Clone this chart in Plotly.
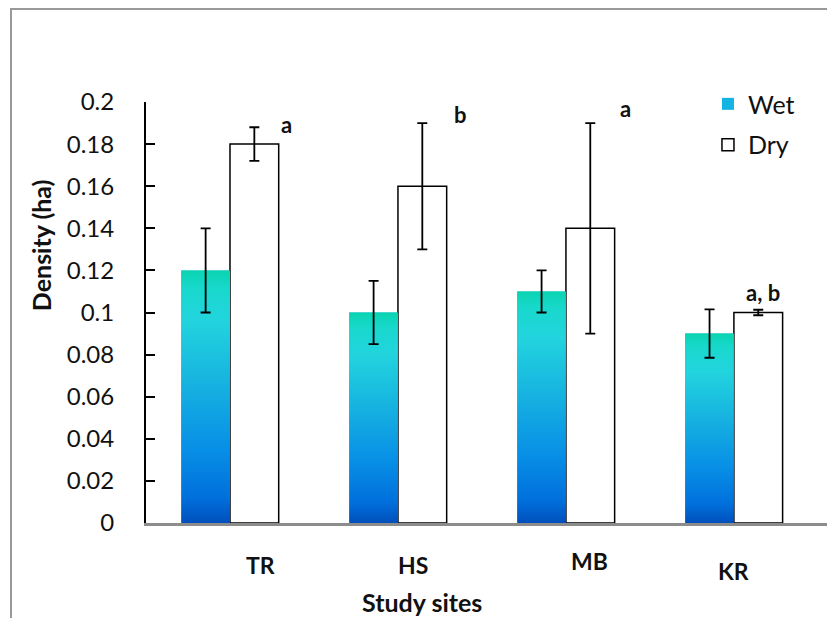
import plotly.graph_objects as go

# ---- data ----
sites = ["TR", "HS", "MB", "KR"]
wet = [0.12, 0.10, 0.11, 0.09]
wet_err = [0.020, 0.015, 0.010, 0.0115]
dry = [0.18, 0.16, 0.14, 0.10]
dry_err = [0.008, 0.030, 0.050, 0.0013]
letters = ["a", "b", "a", "a, b"]
ytick_vals = [0, 0.02, 0.04, 0.06, 0.08, 0.1, 0.12, 0.14, 0.16, 0.18, 0.2]
ytick_text = ["0", "0.02", "0.04", "0.06", "0.08", "0.1", "0.12", "0.14", "0.16", "0.18", "0.2"]

# ---- style ----
FONT = "Lato"
BW = 0.29
idx = list(range(len(sites)))
grad = [[0.0, "#0050bc"], [0.1, "#0070dc"], [0.3, "#0890e6"], [0.55, "#16b2e0"],
        [0.8, "#22d4de"], [0.93, "#18d8cc"], [1.0, "#0ad4b0"]]

fig = go.Figure()

# Wet bars (solid base, provides legend entry)
fig.add_trace(go.Bar(
    x=idx, y=wet, offset=-BW, width=BW, name="Wet",
    marker=dict(color="#14b4e2", line=dict(width=0)),
    legend="legend", hoverinfo="skip"))

# Dry bars
fig.add_trace(go.Bar(
    x=idx, y=dry, offset=0, width=BW, name="Dry",
    marker=dict(color="white", line=dict(color="black", width=1.5)),
    error_y=dict(type="data", array=dry_err, color="black", thickness=1.8, width=5),
    legend="legend2", hoverinfo="skip"))

# Gradient overlay for wet bars
for i, v in zip(idx, wet):
    fig.add_trace(go.Scatter(
        x=[i - BW, i, i, i - BW, i - BW], y=[0, 0, v, v, 0],
        mode="lines", line=dict(width=0), fill="toself",
        fillgradient=dict(type="vertical", colorscale=grad, start=0, stop=v),
        showlegend=False, hoverinfo="skip"))

# Wet error bars
fig.add_trace(go.Scatter(
    x=[i - BW / 2 for i in idx], y=wet, mode="markers",
    marker=dict(size=1, color="rgba(0,0,0,0)"),
    error_y=dict(type="data", array=wet_err, color="black", thickness=1.8, width=5),
    showlegend=False, hoverinfo="skip"))

annotations = []
# significance letters
let_dx = [0.339, 0.375, 0.357, 0.173]
let_y = [0.1895, 0.1943, 0.197, 0.1095]
for i, t in enumerate(letters):
    annotations.append(dict(x=i + let_dx[i], y=let_y[i], xref="x", yref="y", text="<b>%s</b>" % t,
                            xanchor="center", yanchor="middle",
                            showarrow=False, font=dict(family=FONT, size=22, color="#111")))
# site labels
lab_dx = [0.18, 0.09, 0.14, 0.0]
lab_y = [-0.0998, -0.0998, -0.0903, -0.114]
for i, s in enumerate(sites):
    annotations.append(dict(x=i + lab_dx[i], y=lab_y[i], xref="x", yref="paper", text="<b>%s</b>" % s,
                            xanchor="center", yanchor="middle",
                            showarrow=False, font=dict(family=FONT, size=23, color="#111")))
# axis titles
annotations.append(dict(x=0.4017, y=-0.1876, xref="paper", yref="paper", text="<b>Study sites</b>",
                        xanchor="center", yanchor="middle",
                        showarrow=False, font=dict(family=FONT, size=25, color="#111")))
annotations.append(dict(x=-0.1528, y=0.66, xref="paper", yref="paper", text="<b>Density (ha)</b>",
                        xanchor="center", yanchor="middle",
                        textangle=-90, showarrow=False, font=dict(family=FONT, size=25, color="#111")))

fig.update_layout(
    width=827, height=610,
    margin=dict(l=138, r=2, t=94, b=95),
    paper_bgcolor="white", plot_bgcolor="white",
    barmode="overlay",
    font=dict(family=FONT, size=24, color="#111"),
    annotations=annotations,
    legend=dict(x=0.818, y=0.995, xanchor="left", yanchor="middle",
                font=dict(family=FONT, size=25, color="#111"), bgcolor="rgba(0,0,0,0)"),
    legend2=dict(x=0.818, y=0.898, xanchor="left", yanchor="middle",
                 font=dict(family=FONT, size=25, color="#111"), bgcolor="rgba(0,0,0,0)"),
    shapes=[dict(type="rect", xref="paper", yref="paper", x0=-0.1965, y0=1.221, x1=1.3, y1=-0.5,
                 line=dict(color="#999999", width=2), fillcolor="rgba(0,0,0,0)", layer="below")],
    xaxis=dict(range=[-0.5, 3.59], showticklabels=False, ticks="", showgrid=False, zeroline=False,
               showline=True, linecolor="#8c8c8c", linewidth=2.5, fixedrange=True),
    yaxis=dict(range=[0, 0.2], tickvals=ytick_vals, ticktext=ytick_text, ticks="inside", ticklen=9,
               tickwidth=1.5, tickcolor="black", showline=True, linecolor="black", linewidth=2,
               showgrid=False, zeroline=False, ticklabelstandoff=25,
               tickfont=dict(family=FONT, size=24, color="#111")),
)

fig.write_html("out.html")
